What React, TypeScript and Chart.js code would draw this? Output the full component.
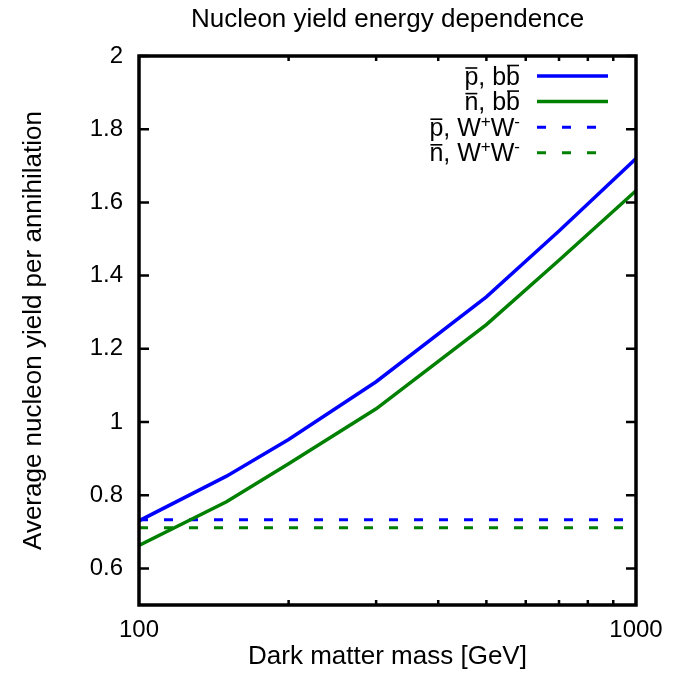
import React, { useEffect, useRef } from "react";
import { Chart, registerables } from "chart.js";

Chart.register(...registerables);

// ---- data ----
const MASS = [100, 150, 200, 300, 500, 700, 1000];
const PBAR_BB = [0.73, 0.852, 0.952, 1.11, 1.342, 1.522, 1.72];
const NBAR_BB = [0.663, 0.782, 0.886, 1.036, 1.266, 1.442, 1.632];
const MASS_WW = [100, 1000];
const PBAR_WW = [0.733, 0.733];
const NBAR_WW = [0.711, 0.711];

const X_TICKS = [100, 1000];
const X_MINOR = [200, 300, 400, 500, 600, 700, 800, 900];
const Y_TICKS = [0.6, 0.8, 1.0, 1.2, 1.4, 1.6, 1.8, 2.0];

const TITLE = "Nucleon yield energy dependence";
const X_LABEL = "Dark matter mass [GeV]";
const Y_LABEL = "Average nucleon yield per annihilation";

type Seg = { t: string; bar?: boolean; sup?: boolean };
const LEGEND_LABELS: Seg[][] = [
  [{ t: "p", bar: true }, { t: ", b" }, { t: "b", bar: true }],
  [{ t: "n", bar: true }, { t: ", b" }, { t: "b", bar: true }],
  [{ t: "p", bar: true }, { t: ", W" }, { t: "+", sup: true }, { t: "W" }, { t: "-", sup: true }],
  [{ t: "n", bar: true }, { t: ", W" }, { t: "+", sup: true }, { t: "W" }, { t: "-", sup: true }],
];

const BLUE = "#0000ff";
const GREEN = "#008000";
const FONT = "'Liberation Sans', Arial, Helvetica, sans-serif";
const FS = 24;
const FS_TITLE = 26;
const FS_LEG = 25;

const pts = (xs: number[], ys: number[]) => xs.map((x, i) => ({ x, y: ys[i] }));

const framePlugin = {
  id: "frame",
  afterDatasetsDraw(chart: any) {
    const { ctx, chartArea: a, scales } = chart;
    const xs = scales.x;
    const ys = scales.y;
    ctx.save();
    ctx.strokeStyle = "#000";
    ctx.lineWidth = 2.5;
    ctx.beginPath();
    for (const v of Y_TICKS) {
      const py = ys.getPixelForValue(v);
      ctx.moveTo(a.left, py);
      ctx.lineTo(a.left + 10, py);
      ctx.moveTo(a.right, py);
      ctx.lineTo(a.right - 10, py);
    }
    for (const v of X_MINOR) {
      const px = xs.getPixelForValue(v);
      ctx.moveTo(px, a.bottom);
      ctx.lineTo(px, a.bottom - 5);
      ctx.moveTo(px, a.top);
      ctx.lineTo(px, a.top + 5);
    }
    ctx.stroke();
    ctx.lineWidth = 3.5;
    ctx.strokeRect(a.left, a.top, a.right - a.left, a.bottom - a.top);

    // title
    ctx.fillStyle = "#000";
    ctx.font = `${FS_TITLE}px ${FONT}`;
    ctx.textAlign = "center";
    ctx.textBaseline = "alphabetic";
    ctx.fillText(TITLE, (a.left + a.right) / 2, 27);

    // legend
    const small = Math.round(FS_LEG * 0.68);
    chart.data.datasets.forEach((ds: any, i: number) => {
      const segs = LEGEND_LABELS[i];
      const rowY = a.top + 20 + i * 25.6;
      const base = rowY + 8.5;
      let total = 0;
      const widths = segs.map((s) => {
        ctx.font = `${s.sup ? small : FS_LEG}px ${FONT}`;
        const w = ctx.measureText(s.t).width;
        total += w;
        return w;
      });
      let x = a.right - 116 - total;
      ctx.textAlign = "left";
      segs.forEach((s, k) => {
        ctx.font = `${s.sup ? small : FS_LEG}px ${FONT}`;
        ctx.fillText(s.t, x, s.sup ? base - 9 : base);
        if (s.bar) {
          const by = s.t === "b" ? base - FS_LEG * 0.76 : base - FS_LEG * 0.52 - 3.5;
          ctx.lineWidth = 1.6;
          ctx.beginPath();
          ctx.moveTo(x + 1, by);
          ctx.lineTo(x + widths[k] - 1, by);
          ctx.stroke();
        }
        x += widths[k];
      });
      ctx.strokeStyle = ds.borderColor;
      ctx.lineWidth = ds.borderWidth;
      ctx.setLineDash(ds.borderDash || []);
      ctx.beginPath();
      ctx.moveTo(a.right - 99, rowY);
      ctx.lineTo(a.right - 28, rowY);
      ctx.stroke();
      ctx.setLineDash([]);
      ctx.strokeStyle = "#000";
    });
    ctx.restore();
  },
};

export default function App() {
  const ref = useRef<HTMLCanvasElement | null>(null);
  useEffect(() => {
    if (!ref.current) return;
    const chart = new Chart(ref.current, {
      type: "line",
      data: {
        datasets: [
          { label: "p, bb", data: pts(MASS, PBAR_BB), borderColor: BLUE, borderWidth: 3.5, pointRadius: 0, fill: false },
          { label: "n, bb", data: pts(MASS, NBAR_BB), borderColor: GREEN, borderWidth: 3.5, pointRadius: 0, fill: false },
          { label: "p, W+W-", data: pts(MASS_WW, PBAR_WW), borderColor: BLUE, borderWidth: 3, borderDash: [9, 16], pointRadius: 0, fill: false },
          { label: "n, W+W-", data: pts(MASS_WW, NBAR_WW), borderColor: GREEN, borderWidth: 3, borderDash: [9, 16], pointRadius: 0, fill: false },
        ],
      },
      options: {
        animation: false,
        responsive: true,
        maintainAspectRatio: false,
        layout: { padding: { left: 0, top: 56, right: 38, bottom: 0 } },
        plugins: { legend: { display: false }, title: { display: false }, tooltip: { enabled: false } },
        scales: {
          x: {
            type: "logarithmic",
            min: 100,
            max: 1000,
            grid: { display: false, drawTicks: false },
            border: { display: false },
            afterBuildTicks: (s: any) => {
              s.ticks = X_TICKS.map((v) => ({ value: v }));
            },
            afterFit: (s: any) => {
              s.height = 82;
            },
            ticks: {
              autoSkip: false,
              maxRotation: 0,
              padding: 11,
              color: "#000",
              font: { family: FONT, size: FS },
              callback: (v: any) => String(v),
            },
            title: {
              display: true,
              text: X_LABEL,
              color: "#000",
              font: { family: FONT, size: FS_TITLE },
              padding: { top: 0, bottom: 15 },
            },
          },
          y: {
            type: "linear",
            min: 0.5,
            max: 2,
            grid: { display: false, drawTicks: false },
            border: { display: false },
            afterBuildTicks: (s: any) => {
              s.ticks = Y_TICKS.map((v) => ({ value: v }));
            },
            afterFit: (s: any) => {
              s.width = 139;
            },
            ticks: {
              autoSkip: false,
              padding: 16,
              color: "#000",
              font: { family: FONT, size: FS },
              callback: (v: any) => String(+Number(v).toFixed(1)),
            },
            title: {
              display: true,
              text: Y_LABEL,
              color: "#000",
              font: { family: FONT, size: FS_TITLE },
              padding: { top: 18, bottom: 0 },
            },
          },
        },
      },
      plugins: [framePlugin],
    });
    return () => chart.destroy();
  }, []);
  return (
    <div style={{ position: "absolute", left: 0, top: 0, width: 674, height: 687, background: "#fff" }}>
      <canvas ref={ref} />
    </div>
  );
}
